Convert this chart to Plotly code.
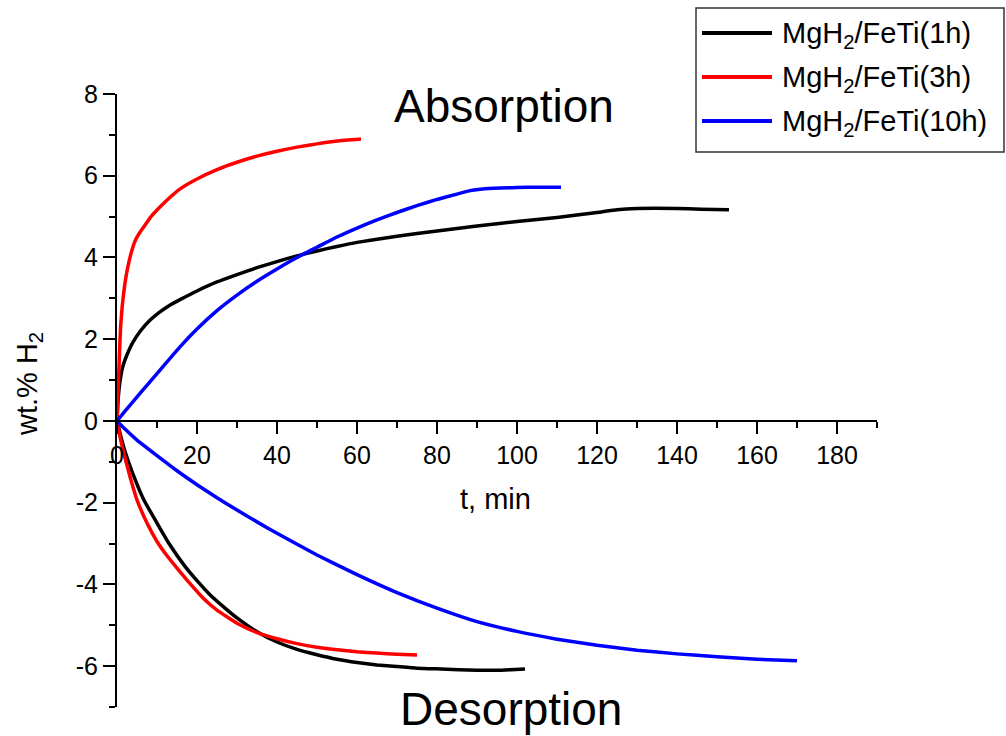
import plotly.graph_objects as go

# Absorption kinetics (t in min, wt.% H2)
t_abs_1h = [0, 0.3, 0.8, 1.5, 2.5, 4, 6, 8.3, 10.5, 13, 16, 20, 25, 30, 35, 40, 45, 50, 55, 60, 70, 80, 90, 100, 110, 120, 125, 130, 140, 146, 153]
w_abs_1h = [0, 0.55, 1.0, 1.35, 1.62, 1.93, 2.22, 2.47, 2.65, 2.82, 2.98, 3.18, 3.4, 3.58, 3.75, 3.9, 4.04, 4.16, 4.27, 4.37, 4.52, 4.65, 4.77, 4.88, 4.98, 5.1, 5.17, 5.2, 5.2, 5.18, 5.17]

t_abs_3h = [0, 0.3, 0.6, 0.9, 1.3, 1.7, 2.2, 3.3, 4.5, 5.5, 6.7, 8.5, 10.8, 13, 15.8, 20, 25, 30, 35, 40, 45, 50, 55, 61]
w_abs_3h = [0, 0.8, 1.6, 2.3, 2.8, 3.15, 3.5, 4.02, 4.4, 4.58, 4.75, 5.0, 5.24, 5.45, 5.68, 5.92, 6.15, 6.33, 6.48, 6.6, 6.7, 6.78, 6.85, 6.9]

t_abs_10h = [0, 2, 5.8, 10, 15.8, 20, 25, 30, 35, 40, 45, 50, 55, 60, 65, 70, 75, 80, 85, 88, 92, 100, 105, 111]
w_abs_10h = [0, 0.24, 0.68, 1.16, 1.82, 2.25, 2.7, 3.08, 3.42, 3.72, 4.0, 4.25, 4.5, 4.72, 4.92, 5.1, 5.27, 5.42, 5.55, 5.63, 5.68, 5.71, 5.72, 5.72]

# Desorption kinetics
t_des_1h = [0, 1, 2, 4, 6.7, 10, 13, 17, 20, 23.3, 27, 30, 35, 40, 45, 50, 55, 60, 65, 70, 75, 81, 90, 95, 102]
w_des_1h = [0, -0.4, -0.75, -1.3, -1.93, -2.5, -3.0, -3.56, -3.91, -4.26, -4.58, -4.82, -5.16, -5.41, -5.59, -5.72, -5.83, -5.91, -5.97, -6.01, -6.05, -6.07, -6.1, -6.1, -6.07]

t_des_3h = [0, 1, 2, 3.5, 5, 7.5, 10, 12.5, 15, 18, 21.7, 25, 30, 35, 40, 45, 50, 55, 60, 65, 70, 75]
w_des_3h = [0, -0.5, -0.9, -1.45, -1.93, -2.5, -2.95, -3.3, -3.6, -3.95, -4.35, -4.63, -4.95, -5.18, -5.33, -5.45, -5.54, -5.6, -5.65, -5.68, -5.71, -5.73]

t_des_10h = [0, 2, 5, 10, 15, 20, 25, 30, 35, 40, 50, 60, 70, 80, 90, 100, 110, 120, 130, 140, 150, 160, 170]
w_des_10h = [0, -0.2, -0.47, -0.85, -1.22, -1.56, -1.88, -2.18, -2.47, -2.75, -3.28, -3.76, -4.2, -4.58, -4.91, -5.15, -5.34, -5.49, -5.61, -5.7, -5.77, -5.83, -5.87]

series_names = ["MgH<sub>2</sub>/FeTi(1h)", "MgH<sub>2</sub>/FeTi(3h)", "MgH<sub>2</sub>/FeTi(10h)"]
series_colors = ["#000000", "#FF0000", "#0000FF"]

x_ticks = [0, 20, 40, 60, 80, 100, 120, 140, 160, 180]
y_ticks = [-6, -4, -2, 0, 2, 4, 6, 8]

curves = [
    (t_abs_1h, w_abs_1h, 0), (t_abs_3h, w_abs_3h, 1), (t_abs_10h, w_abs_10h, 2),
    (t_des_1h, w_des_1h, 0), (t_des_3h, w_des_3h, 1), (t_des_10h, w_des_10h, 2),
]

fig = go.Figure()
for t, w, k in curves:
    fig.add_trace(go.Scatter(
        x=t, y=w, mode="lines", name=series_names[k],
        line=dict(color=series_colors[k], width=3.5, shape="spline", smoothing=0.4),
        showlegend=False, cliponaxis=False,
    ))

FONT = "Liberation Sans, Arial, sans-serif"

W, H = 1006, 736
ML, MR, MT, MB = 117, 129, 94, 29
PW, PH = W - ML - MR, H - MT - MB


def px_x(px):
    return (px - ML) / PW


def px_y(py):
    return (H - MB - py) / PH


def label(text, x, y, size, **kw):
    return dict(text=text, x=px_x(x), y=px_y(y), xref="paper", yref="paper",
                showarrow=False, xanchor=kw.pop("xanchor", "center"), yanchor="middle",
                font=dict(size=size, color="black", family=FONT), **kw)


annotations = [
    label("Absorption", 504, 106, 46),
    label("Desorption", 511, 709, 46),
    label("t, min", 495, 499, 29),
    label("wt.% H<sub>2</sub>", 29, 384, 29, textangle=-90),
]

shapes = [
    dict(type="rect", xref="paper", yref="paper",
         x0=px_x(696), x1=px_x(1004), y0=px_y(152), y1=px_y(8),
         line=dict(color="#333333", width=1.5), fillcolor="white", layer="above"),
]

legend_rows = [33, 77, 121]
for k, row in enumerate(legend_rows):
    shapes.append(dict(type="line", xref="paper", yref="paper",
                       x0=px_x(702), x1=px_x(772), y0=px_y(row), y1=px_y(row),
                       line=dict(color=series_colors[k], width=4), layer="above"))
    annotations.append(label(series_names[k], 780, row + 2, 29, xanchor="left"))

fig.update_layout(
    width=W, height=H,
    margin=dict(l=ML, r=MR, t=MT, b=MB, autoexpand=False),
    paper_bgcolor="white", plot_bgcolor="white",
    font=dict(family=FONT, color="black"),
    annotations=annotations, shapes=shapes,
    xaxis=dict(
        range=[0, 190], tickvals=x_ticks, ticktext=[str(v) for v in x_ticks],
        showgrid=False, zeroline=False, showline=True, linecolor="black", linewidth=2,
        ticks="outside", ticklen=12, tickwidth=2, tickcolor="black",
        minor=dict(dtick=10, ticks="outside", ticklen=6, tickwidth=2, tickcolor="black", showgrid=False),
        tickfont=dict(size=25, family=FONT, color="black"),
        anchor="free", position=7 / 15,
    ),
    yaxis=dict(
        range=[-7, 8], tickvals=y_ticks, ticktext=[str(v) for v in y_ticks],
        showgrid=False, zeroline=False, showline=True, linecolor="black", linewidth=2,
        ticks="outside", ticklen=12, tickwidth=2, tickcolor="black",
        minor=dict(dtick=1, ticks="outside", ticklen=6, tickwidth=2, tickcolor="black", showgrid=False),
        tickfont=dict(size=25, family=FONT, color="black"),
    ),
)

fig.write_html("out.html")
